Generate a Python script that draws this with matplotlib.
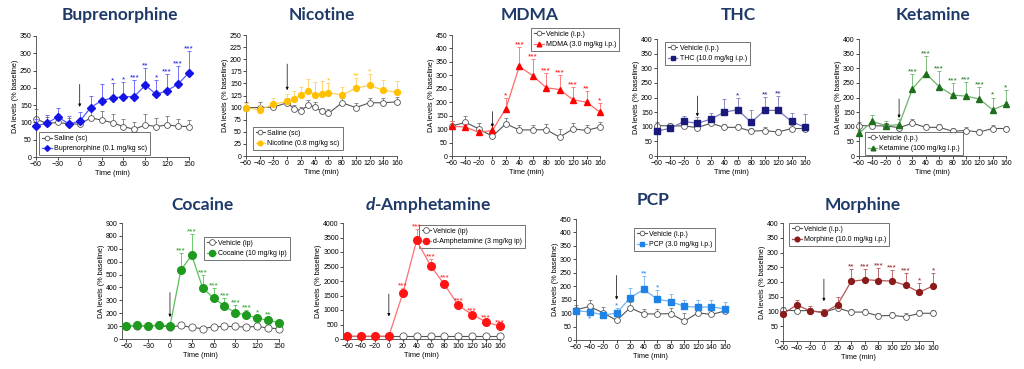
import numpy as np
import matplotlib.pyplot as plt
from matplotlib.lines import Line2D

plt.rcParams['font.family'] = ['Liberation Sans', 'DejaVu Sans']
plt.rcParams['mathtext.fontset'] = 'custom'
plt.rcParams['mathtext.it'] = 'Lato:italic:bold'
plt.rcParams['mathtext.rm'] = 'Lato:bold'

W, H = 1024, 369
TITLE_COLOR = '#1F3A68'

# ---- time axes ----
t15 = [-60, -45, -30, -15, 0, 15, 30, 45, 60, 75, 90, 105, 120, 135, 150]
t20 = [-60, -40, -20, 0, 20, 40, 60, 80, 100, 120, 140, 160]
t_nic = [-60, -40, -20, 0, 10, 20, 30, 40, 50, 60, 80, 100, 120, 140, 160]

# ---- Buprenorphine ----
bup_sal = [110, 97, 100, 96, 95, 113, 107, 99, 88, 80, 93, 88, 93, 89, 88]
bup_sal_err = [28, 20, 18, 18, 15, 25, 27, 25, 23, 20, 30, 25, 25, 20, 20]
bup = [90, 98, 116, 96, 103, 143, 163, 171, 174, 175, 208, 181, 192, 211, 244]
bup_err = [20, 24, 27, 23, 28, 34, 49, 43, 43, 47, 50, 41, 48, 51, 63]
bup_stars = ['', '', '', '', '', '', '', '*', '*', '***', '**', '*', '***', '***', '***']

# ---- Nicotine ----
nic_sal = [100, 100, 101, 110, 98, 93, 105, 102, 92, 88, 110, 100, 110, 110, 112]
nic_sal_err = [12, 12, 10, 10, 8, 8, 10, 10, 8, 10, 10, 10, 10, 10, 10]
nic = [100, 95, 107, 113, 118, 126, 135, 127, 128, 131, 126, 140, 146, 136, 132]
nic_err = [10, 10, 13, 15, 17, 17, 25, 25, 27, 19, 16, 22, 24, 21, 23]
nic_stars = ['', '', '', '', '', '', '', '', '', '*', '', '**', '*', '', '']

# ---- shared vehicle groups ----
veh_a = [112, 125, 101, 73, 120, 97, 97, 98, 70, 101, 95, 108]
veh_a_err = [20, 25, 22, 15, 23, 20, 20, 22, 30, 22, 22, 20]
veh_b = [104, 103, 103, 97, 112, 98, 98, 85, 87, 82, 94, 94]
veh_b_err = [12, 10, 10, 10, 15, 12, 12, 10, 12, 12, 12, 10]

# ---- MDMA ----
mdma = [110, 108, 88, 95, 176, 333, 299, 254, 247, 209, 200, 163]
mdma_err = [20, 10, 10, 20, 39, 72, 63, 56, 55, 48, 40, 35]
mdma_stars = ['', '', '', '', '*', '***', '***', '***', '***', '***', '**', '*']

# ---- THC ----
thc = [85, 95, 118, 112, 126, 150, 158, 115, 156, 156, 118, 98]
thc_err = [10, 10, 19, 21, 21, 45, 41, 42, 46, 48, 28, 47]
thc_stars = ['', '', '', '', '', '', '*', '', '**', '**', '', '']

# ---- Ketamine ----
ket = [78, 118, 104, 107, 230, 282, 237, 208, 205, 195, 158, 177]
ket_err = [10, 22, 16, 18, 52, 60, 53, 40, 48, 40, 42, 47]
ket_stars = ['', '', '', '', '***', '***', '***', '***', '***', '***', '*', '*']

# ---- Cocaine ----
coc_veh = [100, 103, 100, 105, 92, 105, 90, 80, 95, 97, 97, 92, 98, 85, 80]
coc_veh_err = [10, 10, 10, 10, 10, 12, 10, 10, 10, 10, 10, 10, 10, 10, 10]
coc = [100, 105, 100, 110, 100, 535, 650, 395, 318, 255, 205, 185, 162, 145, 128]
coc_err = [10, 10, 10, 12, 10, 130, 165, 100, 77, 65, 55, 40, 28, 25, 22]
coc_stars = ['', '', '', '', '', '***', '***', '***', '***', '***', '***', '***', '*', '**', '']

# ---- d-Amphetamine ----
amp_veh = [100, 100, 100, 100, 100, 100, 100, 100, 100, 100, 100, 100]
amp_veh_err = [20, 20, 20, 20, 20, 20, 20, 20, 20, 20, 20, 20]
amp = [100, 100, 100, 100, 1570, 3400, 2530, 1880, 1160, 840, 590, 440]
amp_err = [20, 20, 20, 20, 180, 400, 220, 170, 90, 60, 50, 40]
amp_stars = ['', '', '', '', '***', '***', '***', '***', '***', '***', '***', '***']

# ---- PCP ----
pcp = [108, 105, 93, 100, 157, 188, 152, 143, 125, 122, 123, 116]
pcp_err = [10, 10, 10, 20, 35, 49, 35, 29, 23, 26, 25, 24]
pcp_stars = ['', '', '', '*', '', '**', '*', '', '', '', '', '']

# ---- Morphine ----
mor = [92, 122, 102, 96, 123, 202, 208, 205, 203, 189, 165, 187]
mor_err = [10, 18, 18, 14, 25, 43, 37, 43, 38, 41, 30, 43]
mor_stars = ['', '', '', '', '', '**', '***', '***', '***', '***', '*', '*']


def px_axes(fig, x0, y0, x1, y1):
    return fig.add_axes([x0 / W, 1 - y1 / H, (x1 - x0) / W, (y1 - y0) / H])


def panel(fig, box, title, title_xy, xv, veh, veh_err, xd, drug, drug_err, stars,
          color, lcolor, marker, labels, ylim, ystep, xlim, xticks, arrow,
          leg_loc, leg_anchor, ms=4.2, vms=4.2, leg_behind=False):
    ax = px_axes(fig, *box)
    z = np.zeros(len(veh))
    ax.errorbar(xv, veh, yerr=[z, veh_err], fmt='none', ecolor='#777777',
                elinewidth=0.6, capsize=1.3, capthick=0.6, zorder=2, clip_on=False)
    ax.plot(xv, veh, color='#555555', lw=0.8, marker='o', ms=vms, mfc='white',
            mec='#555555', mew=0.6, zorder=2, clip_on=False)
    z = np.zeros(len(drug))
    ax.errorbar(xd, drug, yerr=[z, drug_err], fmt='none', ecolor=lcolor,
                elinewidth=0.6, capsize=1.3, capthick=0.6, zorder=3, clip_on=False)
    ax.plot(xd, drug, color=lcolor, lw=0.9, marker=marker, ms=ms, mfc=color,
            mec=color, zorder=4, clip_on=False)
    for xi, yi, ei, s in zip(xd, drug, drug_err, stars):
        if s:
            ax.annotate(s, (xi, yi + ei), xytext=(0, -1), textcoords='offset points',
                        ha='center', va='bottom', fontsize=6, color=color, zorder=6)
    ax.annotate('', xy=(0, arrow[1]), xytext=(0, arrow[0]),
                arrowprops=dict(arrowstyle='-|>', color='black', lw=0.5,
                                mutation_scale=4, shrinkA=0, shrinkB=0))
    ax.set_ylim(0, ylim)
    ax.set_yticks(np.arange(0, ylim + 1, ystep))
    ax.set_xlim(*xlim)
    ax.set_xticks(xticks)
    ax.tick_params(labelsize=5, length=2, width=0.5, pad=1)
    for s in ['top', 'right']:
        ax.spines[s].set_visible(False)
    for s in ['left', 'bottom']:
        ax.spines[s].set_linewidth(0.6)
        ax.spines[s].set_color('#444444')
    ax.set_xlabel('Time (min)', fontsize=5.3, labelpad=1)
    ax.set_ylabel('DA levels (% baseline)', fontsize=5.3, labelpad=1)
    handles = [
        Line2D([], [], color='#555555', lw=0.8, marker='o', ms=vms * 0.8,
               mfc='white', mec='#555555', mew=0.6),
        Line2D([], [], color=lcolor, lw=0.9, marker=marker, ms=ms * 0.8,
               mfc=color, mec=color),
    ]
    leg = ax.legend(handles, labels, loc=leg_loc, bbox_to_anchor=leg_anchor,
                    fontsize=5.0, frameon=True, fancybox=False, edgecolor='#333333',
                    handlelength=1.4, handletextpad=0.3, borderpad=0.4,
                    labelspacing=0.5, borderaxespad=0)
    leg.get_frame().set_linewidth(0.6)
    if leg_behind:
        leg.set_zorder(1)
    fig.text(title_xy[0] / W, 1 - title_xy[1] / H, title, ha='center', va='center',
             fontsize=12.5, fontweight='bold', family='Lato', color=TITLE_COLOR)
    return ax


fig = plt.figure(figsize=(W / 100, H / 100), dpi=100)

xt15 = [-60, -30, 0, 30, 60, 90, 120, 150]

panel(fig, (36, 36, 189, 157), 'Buprenorphine', (120, 15), t15, bup_sal, bup_sal_err,
      t15, bup, bup_err, bup_stars, '#1414E6', '#5C5CFF', 'D',
      ['Saline (sc)', 'Buprenorphine (0.1 mg/kg sc)'], 350, 50, (-60, 150), xt15,
      (210, 145), 'lower left', (0.02, 0.015), ms=3.6)

panel(fig, (246, 35, 397, 156), 'Nicotine', (322, 15), t_nic, nic_sal, nic_sal_err,
      t_nic, nic, nic_err, nic_stars, '#FFC000', '#FFD060', 'o',
      ['Saline (sc)', 'Nicotine (0.8 mg/kg sc)'], 250, 25, (-60, 160), t20,
      (190, 136), 'lower left', (0.045, 0.05))

panel(fig, (452, 35, 600, 156), 'MDMA', (530, 15), t20, veh_a, veh_a_err,
      t20, mdma, mdma_err, mdma_stars, '#FF0000', '#FF6A6A', '^',
      ['Vehicle (i.p.)', 'MDMA (3.0 mg/kg i.p.)'], 450, 50, (-60, 160), t20,
      (165, 108), 'upper right', (1.13, 1.06))

panel(fig, (657, 39, 805, 156), 'THC', (738, 15), t20, veh_b, veh_b_err,
      t20, thc, thc_err, thc_stars, '#1A1A7A', '#7A7AC0', 's',
      ['Vehicle (i.p.)', 'THC (10.0 mg/kg i.p.)'], 400, 50, (-60, 160), t20,
      (205, 135), 'upper left', (0.054, 0.975))

panel(fig, (859, 39, 1006, 156), 'Ketamine', (933, 15), t20, veh_b, veh_b_err,
      t20, ket, ket_err, ket_stars, '#1E6E1E', '#6DB36D', '^',
      ['Vehicle (i.p.)', 'Ketamine (100 mg/kg i.p.)'], 400, 50, (-60, 160), t20,
      (195, 130), 'lower left', (0.04, 0.01))

panel(fig, (122, 223, 279, 339), 'Cocaine', (202, 205), t15, coc_veh, coc_veh_err,
      t15, coc, coc_err, coc_stars, '#1E9A1E', '#55C455', 'o',
      ['Vehicle (ip)', 'Cocaine (10 mg/kg ip)'], 900, 100, (-66, 150), xt15,
      (360, 170), 'upper right', (1.07, 0.88), ms=5.5, vms=5.2)

panel(fig, (343, 223, 500, 339), '$\\mathit{d}$-Amphetamine', (428, 205), t20, amp_veh,
      amp_veh_err, t20, amp, amp_err, amp_stars, '#FF1414', '#FF7070', 'o',
      ['Vehicle (ip)', 'd-Amphetamine (3 mg/kg ip)'], 4000, 500, (-66, 160), t20,
      (1550, 780), 'upper right', (1.16, 0.983), ms=5.5, vms=5.2, leg_behind=True)

panel(fig, (576, 219, 725, 340), 'PCP', (653, 200), t20, veh_a, veh_a_err,
      t20, pcp, pcp_err, pcp_stars, '#1E82E6', '#70B4F2', 's',
      ['Vehicle (i.p.)', 'PCP (3.0 mg/kg i.p.)'], 450, 50, (-60, 160), t20,
      (240, 150), 'upper right', (0.933, 0.926))
# star below the -40 PCP point
fig.axes[-1].text(-40, 78, '*', ha='center', va='center', fontsize=6, color='#1E82E6')

panel(fig, (783, 223, 933, 341), 'Morphine', (863, 205), t20, veh_b, veh_b_err,
      t20, mor, mor_err, mor_stars, '#8B1A1A', '#B25555', 'o',
      ['Vehicle (i.p.)', 'Morphine (10.0 mg/kg i.p.)'], 400, 50, (-60, 160), t20,
      (210, 135), 'upper left', (0.04, 1.0))

fig.savefig('out.png', dpi=100)
